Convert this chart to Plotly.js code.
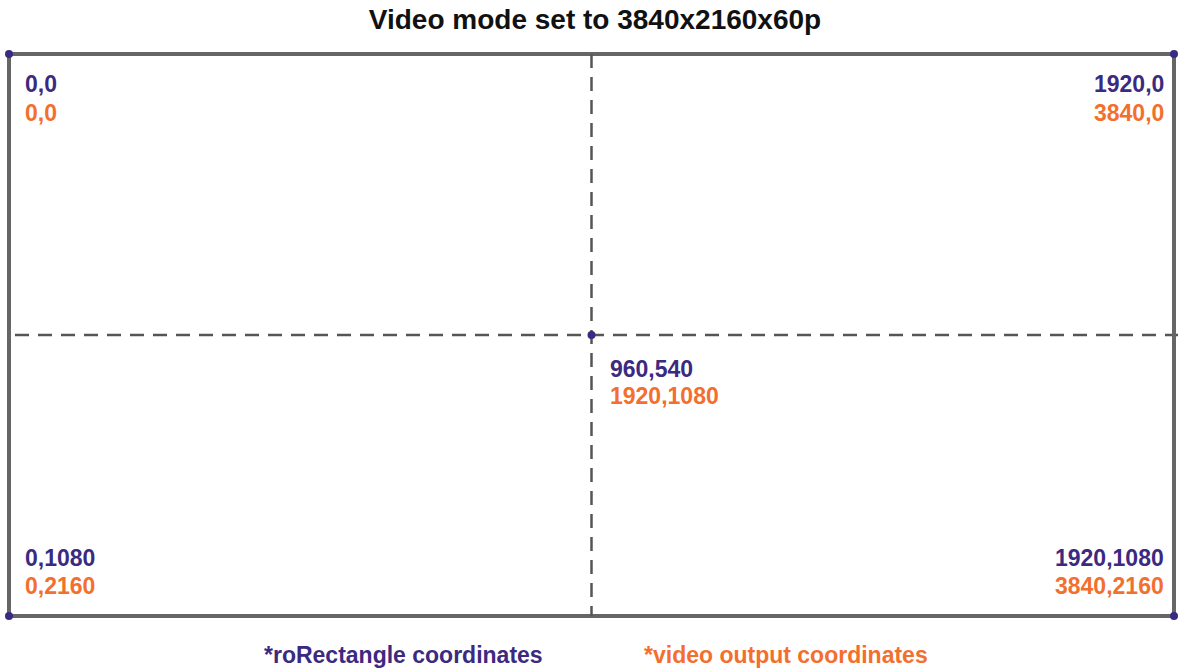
<!DOCTYPE html>
<html>
<head>
<meta charset="utf-8">
<script src="https://cdn.plot.ly/plotly-3.0.1.min.js"></script>
<style>html,body{margin:0;padding:0;background:#fff;}#chart{width:1178px;height:669px;}</style>
</head>
<body>
<div id="chart"></div>
<script>
// Data
var titleText = "Video mode set to 3840x2160x60p";
var frameWidth = 1920;
var frameHeight = 1080;
var pointX = [0, 1920, 0, 1920, 960];
var pointY = [0, 0, 1080, 1080, 540];
var rectLabels = ["0,0", "1920,0", "0,1080", "1920,1080", "960,540"];
var videoLabels = ["0,0", "3840,0", "0,2160", "3840,2160", "1920,1080"];
var legendLabels = ["*roRectangle coordinates", "*video output coordinates"];

// Styles / geometry (pixels)
var purple = "#3b2a80";
var orange = "#f36f2e";
var fontFam = "Liberation Sans, Arial, sans-serif";
var W = 1178, H = 669;
var fx0 = 9, fx1 = 1174, fy0 = 54, fy1 = 616;   // frame pixel edges
var pad = 4;                                     // plot area padding around frame
var L = fx0 - pad, R = W - fx1 - pad, T = fy0 - pad, B = H - fy1 - pad;
var pw = W - L - R, ph = H - T - B;
var ux = frameWidth / (fx1 - fx0), uy = frameHeight / (fy1 - fy0);  // data units per px

// label placement per point: [xanchor, xshift, purple yshift, orange yshift]
var place = [
  ["left", 14, -30, -59],
  ["right", -8, -30, -59],
  ["left", 14, 58, 30],
  ["right", -8, 58, 30],
  ["left", 16, -34, -61]
];

var annotations = [];
for (var i = 0; i < pointX.length; i++) {
  var p = place[i];
  annotations.push({x: pointX[i], y: pointY[i], xref: "x", yref: "y", text: "<b>" + rectLabels[i] + "</b>",
    showarrow: false, xanchor: p[0], yanchor: "middle", xshift: p[1], yshift: p[2],
    font: {family: fontFam, size: 23, color: purple}});
  annotations.push({x: pointX[i], y: pointY[i], xref: "x", yref: "y", text: "<b>" + videoLabels[i] + "</b>",
    showarrow: false, xanchor: p[0], yanchor: "middle", xshift: p[1], yshift: p[3],
    font: {family: fontFam, size: 23, color: orange}});
}
annotations.push({x: (403 - L) / pw, y: (H - B - 655) / ph, xref: "paper", yref: "paper",
  text: "<b>" + legendLabels[0] + "</b>", showarrow: false,
  font: {family: fontFam, size: 23, color: purple}, xanchor: "center", yanchor: "middle"});
annotations.push({x: (786 - L) / pw, y: (H - B - 655) / ph, xref: "paper", yref: "paper",
  text: "<b>" + legendLabels[1] + "</b>", showarrow: false,
  font: {family: fontFam, size: 23, color: orange}, xanchor: "center", yanchor: "middle"});

var shapes = [
  {type: "rect", xref: "x", yref: "y", x0: 0, x1: frameWidth, y0: 0, y1: frameHeight,
   line: {color: "#666666", width: 4}, layer: "below"},
  {type: "line", xref: "x", yref: "y", x0: frameWidth / 2, x1: frameWidth / 2, y0: 0, y1: frameHeight,
   line: {color: "#555555", width: 2.5, dash: "14px,9px"}, layer: "below"},
  {type: "line", xref: "paper", yref: "y", x0: (15 - L) / pw, x1: (1178 - L) / pw, y0: frameHeight / 2, y1: frameHeight / 2,
   line: {color: "#555555", width: 2.5, dash: "14px,9px"}, layer: "below"}
];

var trace = {
  x: pointX, y: pointY, type: "scatter", mode: "markers",
  marker: {color: purple, size: 8}, cliponaxis: false, hoverinfo: "skip"
};

var layout = {
  width: W, height: H,
  margin: {l: L, r: R, t: T, b: B, pad: 0},
  paper_bgcolor: "#fff", plot_bgcolor: "#fff",
  showlegend: false,
  title: {text: "<b>" + titleText + "</b>", x: (595 - L) / pw, xref: "paper", xanchor: "center", y: 1 - 19 / H, yanchor: "middle",
          font: {family: fontFam, size: 28, color: "#111"}},
  xaxis: {range: [-pad * ux, frameWidth + pad * ux], visible: false, fixedrange: true},
  yaxis: {range: [frameHeight + pad * uy, -pad * uy], visible: false, fixedrange: true},
  shapes: shapes,
  annotations: annotations
};

Plotly.newPlot("chart", [trace], layout, {displayModeBar: false, staticPlot: true});
</script>
</body>
</html>
